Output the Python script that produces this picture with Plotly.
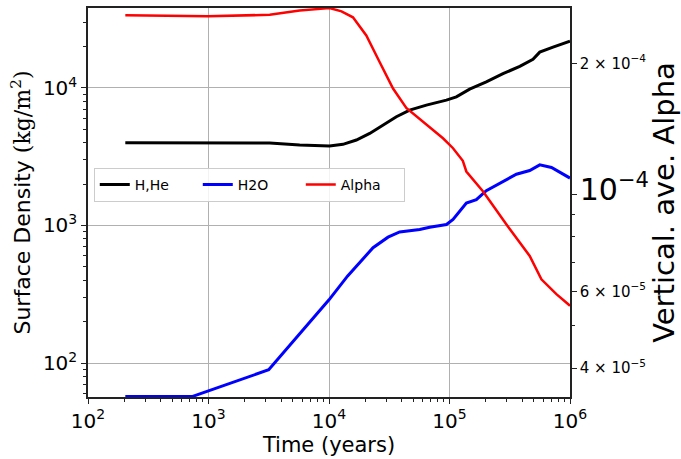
import plotly.graph_objects as go

# Time axis samples (years) and surface densities (kg/m^2)
time_hhe = [204, 985, 3220, 5710, 10100, 13060, 16870, 21770, 28070, 36240, 46700,
            64300, 94200, 114000, 147000, 202000, 278000, 383000, 493000, 561000,
            723000, 1000000]
sigma_hhe = [4000, 4000, 3970, 3850, 3790, 3890, 4180, 4670, 5370, 6170, 6900,
             7500, 8150, 8610, 9790, 11050, 12690, 14350, 16130, 18210, 19800, 21880]

time_h2o = [204, 729, 3160, 10000, 14290, 23200, 30900, 38600, 56600, 68500, 94300,
            107000, 138000, 167000, 202000, 261000, 359000, 463000, 561000, 702000,
            1000000]
sigma_h2o = [57, 57, 89.3, 288, 430, 689, 822, 898, 935, 971, 1016, 1105, 1456, 1540,
             1790, 2030, 2360, 2510, 2760, 2640, 2210]

# Vertically averaged alpha viscosity parameter
time_alpha = [204, 985, 3220, 5710, 10100, 12700, 15800, 20400, 26300, 34000, 43800,
              64300, 88300, 107000, 129000, 138000, 190000, 297000, 463000, 579000,
              771000, 1000000]
alpha = [2.58e-4, 2.567e-4, 2.587e-4, 2.645e-4, 2.68e-4, 2.635e-4, 2.553e-4, 2.319e-4,
         2.016e-4, 1.752e-4, 1.582e-4, 1.445e-4, 1.347e-4, 1.278e-4, 1.196e-4, 1.13e-4,
         1.017e-4, 8.54e-5, 7.23e-5, 6.39e-5, 5.91e-5, 5.56e-5]

# Tick labels
x_ticks = [1e2, 1e3, 1e4, 1e5, 1e6]
x_ticktext = ["10<sup>2</sup>", "10<sup>3</sup>", "10<sup>4</sup>", "10<sup>5</sup>", "10<sup>6</sup>"]
y_ticks = [1e2, 1e3, 1e4]
y_ticktext = ["10<sup>2</sup>", "10<sup>3</sup>", "10<sup>4</sup>"]
y2_ticks = [4e-5, 6e-5, 1e-4, 2e-4]
y2_ticktext = ["4 × 10<sup>−5</sup>", "6 × 10<sup>−5</sup>",
               '<span style="font-size:30px">10<sup>−4</sup></span>',
               "2 × 10<sup>−4</sup>"]


def log_minors(lo_exp, hi_exp):
    vals = []
    for e in range(lo_exp, hi_exp + 1):
        for m in range(2, 10):
            vals.append(m * 10 ** e)
    return vals


FONT = "DejaVu Sans"
AXIS_COLOR = "#222222"
GRID_COLOR = "#b0b0b0"

fig = go.Figure()
fig.add_trace(go.Scatter(x=time_hhe, y=sigma_hhe, name="H,He", mode="lines",
                         line=dict(color="black", width=3)))
fig.add_trace(go.Scatter(x=time_h2o, y=sigma_h2o, name="H2O", mode="lines",
                         line=dict(color="#0000ff", width=3)))
fig.add_trace(go.Scatter(x=time_alpha, y=alpha, name="Alpha", mode="lines", yaxis="y2",
                         line=dict(color="#ff0000", width=2.5)))

fig.update_layout(
    width=681, height=459,
    margin=dict(l=88, r=111, t=6, b=62),
    paper_bgcolor="white", plot_bgcolor="white",
    font=dict(family=FONT, color="black"),
    showlegend=True,
    legend=dict(
        orientation="h", x=0.012, y=0.545, xanchor="left", yanchor="middle",
        bgcolor="rgba(255,255,255,0.85)", bordercolor="#cccccc", borderwidth=1,
        font=dict(size=14, family=FONT), entrywidth=58, itemwidth=30,
    ),
    xaxis=dict(
        type="log", range=[2 - 1e-6, 6 + 1e-6],
        tickmode="array", tickvals=x_ticks, ticktext=x_ticktext,
        tickfont=dict(size=20), ticks="outside", ticklen=5, tickcolor=AXIS_COLOR,
        showline=True, linecolor=AXIS_COLOR, linewidth=1.5, mirror=True,
        showgrid=True, gridcolor=GRID_COLOR, gridwidth=1,
        minor=dict(tickmode="array", tickvals=log_minors(2, 5), ticks="outside",
                   ticklen=3, tickcolor=AXIS_COLOR, showgrid=False),
        title=dict(text="Time (years)", font=dict(size=21), standoff=3),
        zeroline=False,
    ),
    yaxis=dict(
        type="log", range=[1.753, 4.581],
        tickmode="array", tickvals=y_ticks, ticktext=y_ticktext,
        tickfont=dict(size=20), ticks="outside", ticklen=5, tickcolor=AXIS_COLOR,
        showline=True, linecolor=AXIS_COLOR, linewidth=1.5,
        showgrid=True, gridcolor=GRID_COLOR, gridwidth=1,
        minor=dict(tickmode="array", tickvals=log_minors(1, 4), ticks="outside",
                   ticklen=3, tickcolor=AXIS_COLOR, showgrid=False),
        title=dict(text='Surface Density <span style="font-family:DejaVu Serif">(kg/m<sup>2</sup>)</span>',
                   font=dict(size=22), standoff=6),
        zeroline=False,
    ),
    yaxis2=dict(
        type="log", range=[-4.4645, -3.5716], overlaying="y", side="right",
        tickmode="array", tickvals=y2_ticks, ticktext=y2_ticktext,
        tickfont=dict(size=15), ticks="outside", ticklen=5, tickcolor=AXIS_COLOR,
        showline=True, linecolor=AXIS_COLOR, linewidth=1.5,
        showgrid=False,
        minor=dict(tickmode="array", tickvals=[5e-5, 7e-5, 8e-5, 9e-5], ticks="outside",
                   ticklen=3, tickcolor=AXIS_COLOR, showgrid=False),
        title=dict(text="Vertical. ave. Alpha", font=dict(size=29), standoff=4),
        zeroline=False,
    ),
)

fig.write_html("out.html")
